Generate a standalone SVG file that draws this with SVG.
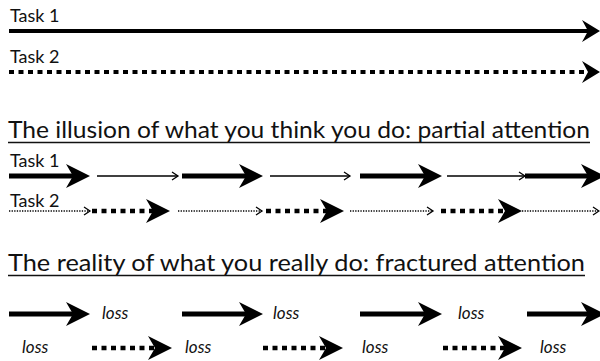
<svg xmlns="http://www.w3.org/2000/svg" xmlns:xlink="http://www.w3.org/1999/xlink" width="600" height="361" viewBox="0 0 600 361">
  <style>
    .lbl { font-family: Lato, "Liberation Sans", sans-serif; font-size: 18px; fill: #111; }
    .title { font-family: Lato, "Liberation Sans", sans-serif; font-size: 24px; fill: #111; }
    .loss { font-family: Lato, "Liberation Sans", sans-serif; font-size: 17px; font-style: italic; fill: #111; }
    .thick { stroke: #000; stroke-width: 5; fill: none; }
    .thickdash { stroke: #000; stroke-width: 4.5; fill: none; stroke-dasharray: 5 4.5; }
    .thin { stroke: #000; stroke-width: 1.3; fill: none; }
    .thindot { stroke: #000; stroke-width: 1.3; fill: none; stroke-dasharray: 1.3 1.3; }
    .uline { stroke: #111; stroke-width: 1.5; }
    .open { stroke: #000; stroke-width: 1.3; fill: none; }
  </style>
  <defs>
    <!-- filled barbed heads, tip at the origin, pointing right -->
    <path id="headTop" d="M0,0 L-18,-11 L-12,0 L-18,11 Z" fill="#000"/>
    <path id="headBig" d="M0,0 L-24,-12 L-17,0 L-24,12 Z" fill="#000"/>
    <!-- small open chevron head -->
    <path id="headSmall" d="M-6,-4 L0,0 L-6,4" class="open"/>
  </defs>

  <!-- Section 1: both tasks with full attention -->
  <g id="full-attention">
    <text class="lbl" x="10" y="22">Task 1</text>
    <text class="lbl" x="10" y="63">Task 2</text>
    <line class="thick" x1="9" y1="31" x2="590" y2="31" style="stroke-width:4"/>
    <use xlink:href="#headTop" x="600" y="31"/>
    <line class="thickdash" x1="9" y1="72" x2="588" y2="72" style="stroke-width:4"/>
    <use xlink:href="#headTop" x="600" y="72"/>
  </g>

  <!-- Section 2: partial attention -->
  <g id="partial-attention">
    <text class="title" x="8" y="138" textLength="582" lengthAdjust="spacingAndGlyphs">The illusion of what you think you do: partial attention</text>
    <line class="uline" x1="8" y1="142.5" x2="590" y2="142.5"/>
    <text class="lbl" x="10" y="167">Task 1</text>
    <text class="lbl" x="10" y="207">Task 2</text>
  </g>

  <g id="connectors-partial">
    <!-- Task 1 row -->
    <line class="thick" x1="9" y1="176" x2="76" y2="176"/>
    <use xlink:href="#headBig" x="90" y="176"/>
    <line class="thin" x1="97" y1="176" x2="178" y2="176"/>
    <use xlink:href="#headSmall" x="178" y="176"/>
    <line class="thick" x1="182" y1="176" x2="249" y2="176"/>
    <use xlink:href="#headBig" x="263" y="176"/>
    <line class="thin" x1="270" y1="176" x2="350" y2="176"/>
    <use xlink:href="#headSmall" x="350" y="176"/>
    <line class="thick" x1="360" y1="176" x2="428" y2="176"/>
    <use xlink:href="#headBig" x="442" y="176"/>
    <line class="thin" x1="447" y1="176" x2="525" y2="176"/>
    <use xlink:href="#headSmall" x="525" y="176"/>
    <line class="thick" x1="525" y1="176" x2="590" y2="176"/>
    <use xlink:href="#headBig" x="605" y="176"/>
    <!-- Task 2 row -->
    <line class="thindot" x1="9" y1="211" x2="90" y2="211"/>
    <use xlink:href="#headSmall" x="90" y="211"/>
    <line class="thickdash" x1="92" y1="211" x2="156" y2="211"/>
    <use xlink:href="#headBig" x="170" y="211"/>
    <line class="thindot" x1="178" y1="211" x2="262" y2="211"/>
    <use xlink:href="#headSmall" x="262" y="211"/>
    <line class="thickdash" x1="266" y1="211" x2="330" y2="211"/>
    <use xlink:href="#headBig" x="344" y="211"/>
    <line class="thindot" x1="350" y1="211" x2="433" y2="211"/>
    <use xlink:href="#headSmall" x="433" y="211"/>
    <line class="thickdash" x1="441" y1="211" x2="508" y2="211"/>
    <use xlink:href="#headBig" x="522" y="211"/>
    <line class="thindot" x1="522" y1="211" x2="598" y2="211"/>
    <use xlink:href="#headSmall" x="599" y="211"/>
  </g>

  <!-- Section 3: fractured attention -->
  <g id="fractured-attention">
    <text class="title" x="8" y="271" textLength="577" lengthAdjust="spacingAndGlyphs">The reality of what you really do: fractured attention</text>
    <line class="uline" x1="8" y1="275.5" x2="585" y2="275.5"/>
    <text class="loss" x="102" y="319">loss</text>
    <text class="loss" x="273" y="319">loss</text>
    <text class="loss" x="458" y="319">loss</text>
    <text class="loss" x="22" y="353">loss</text>
    <text class="loss" x="185" y="353">loss</text>
    <text class="loss" x="362" y="353">loss</text>
    <text class="loss" x="540" y="353">loss</text>
  </g>

  <g id="connectors-fractured">
    <line class="thick" x1="9" y1="314" x2="76" y2="314"/>
    <use xlink:href="#headBig" x="90" y="314"/>
    <line class="thick" x1="182" y1="314" x2="249" y2="314"/>
    <use xlink:href="#headBig" x="263" y="314"/>
    <line class="thick" x1="360" y1="314" x2="428" y2="314"/>
    <use xlink:href="#headBig" x="442" y="314"/>
    <line class="thick" x1="527" y1="314" x2="590" y2="314"/>
    <use xlink:href="#headBig" x="605" y="314"/>
    <line class="thickdash" x1="92" y1="348" x2="158" y2="348"/>
    <use xlink:href="#headBig" x="172" y="348"/>
    <line class="thickdash" x1="263" y1="348" x2="329" y2="348"/>
    <use xlink:href="#headBig" x="343" y="348"/>
    <line class="thickdash" x1="443" y1="348" x2="508" y2="348"/>
    <use xlink:href="#headBig" x="522" y="348"/>
  </g>
</svg>
